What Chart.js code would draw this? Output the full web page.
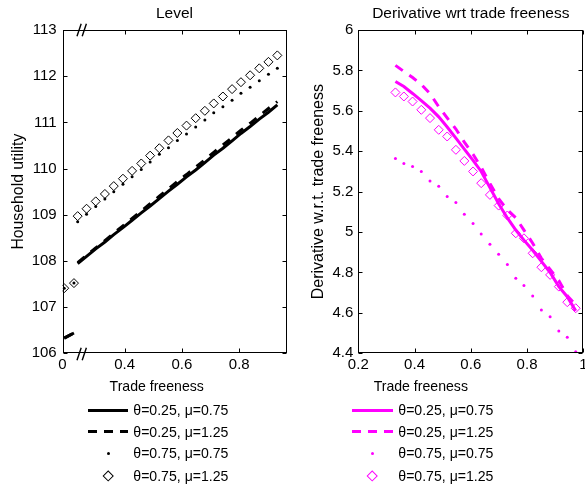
<!DOCTYPE html>
<html>
<head>
<meta charset="utf-8">
<script src="https://cdn.jsdelivr.net/npm/chart.js@4/dist/chart.umd.min.js"></script>
<style>
html,body{margin:0;padding:0;background:#fff;overflow:hidden;width:585px;height:488px;position:relative;font-family:"Liberation Sans",Arial,sans-serif;color:#000;}
canvas{position:absolute;top:0;}
#c1{left:0;}
#c2{left:292px;}
.txt{position:absolute;white-space:nowrap;font-size:14.1px;line-height:20px;height:20px;}
.xl{transform:translateX(-50%);}
.sample{position:absolute;}
</style>
</head>
<body>
<canvas id="c1" width="292" height="380"></canvas>
<canvas id="c2" width="308" height="380"></canvas>
<div id="overlay"></div>
<script>
// ---------------- data ----------------
const legendLabels = ['θ=0.25, μ=0.75', 'θ=0.25, μ=1.25', 'θ=0.75, μ=0.75', 'θ=0.75, μ=1.25'];
const xTitle = 'Trade freeness';

// Left panel: "Level"
const leftX = [0.236,0.267,0.299,0.331,0.362,0.394,0.426,0.458,0.489,0.521,0.553,0.584,0.616,0.648,0.680,0.711,0.743,0.775,0.806,0.838,0.870,0.902,0.933];
const leftEdgeX = [0.189, 0.223];
const leftBreakX = 0.25;
const levelSolid = [107.94,108.10,108.26,108.41,108.57,108.72,108.88,109.04,109.19,109.35,109.51,109.66,109.82,109.97,110.13,110.29,110.44,110.60,110.76,110.91,111.07,111.22,111.38];
const levelSolidEdge = [106.33,106.44];
const levelDashed = [107.96,108.12,108.28,108.44,108.60,108.76,108.92,109.08,109.24,109.40,109.56,109.72,109.87,110.03,110.19,110.35,110.51,110.67,110.83,110.98,111.14,111.30,111.45];
const levelDashedEdge = [106.33,106.44];
const levelDots = [108.85,109.01,109.18,109.34,109.50,109.66,109.82,109.98,110.14,110.31,110.45,110.61,110.75,110.90,111.05,111.21,111.34,111.48,111.63,111.76,111.90,112.04,112.17];
const levelDotsEdge = [107.41,107.52];
const levelDiamonds = [108.97,109.13,109.29,109.45,109.62,109.78,109.95,110.11,110.28,110.44,110.61,110.77,110.93,111.09,111.25,111.41,111.56,111.72,111.87,112.02,112.17,112.31,112.45];
const levelDiamondsEdge = [107.41,107.52];
const leftXTicks = [0.183, 0.4, 0.6, 0.8];
const leftXTickLabels = ['0', '0.4', '0.6', '0.8'];
const leftYTicks = [106,107,108,109,110,111,112,113];
const leftYTickLabels = ['106','107','108','109','110','111','112','113'];

// Right panel: "Derivative wrt trade freeness"
const rightX = [0.332,0.362,0.393,0.424,0.455,0.486,0.516,0.547,0.577,0.608,0.637,0.668,0.699,0.730,0.760,0.789,0.820,0.851,0.882,0.913,0.943,0.973];
const derivSolid = [5.745,5.72,5.686,5.65,5.613,5.57,5.52,5.465,5.41,5.355,5.30,5.22,5.14,5.07,5.01,4.96,4.91,4.855,4.80,4.73,4.68,4.61];
const derivDashed = [5.825,5.795,5.765,5.73,5.685,5.62,5.565,5.51,5.445,5.385,5.32,5.24,5.165,5.11,5.07,5.01,4.945,4.87,4.815,4.76,4.685,4.64];
const derivDots = [5.364,5.339,5.324,5.30,5.253,5.227,5.176,5.146,5.088,5.042,4.99,4.94,4.89,4.839,4.771,4.735,4.684,4.614,4.581,4.51,4.48,4.408];
const derivDiamonds = [5.691,5.671,5.646,5.605,5.564,5.506,5.473,5.407,5.352,5.30,5.242,5.184,5.131,5.082,4.994,4.969,4.895,4.826,4.788,4.730,4.653,4.623];
const rightXTicks = [0.2, 0.4, 0.6, 0.8, 1.0];
const rightXTickLabels = ['0.2','0.4','0.6','0.8','1'];
const rightYTicks = [4.4,4.6,4.8,5.0,5.2,5.4,5.6,5.8,6.0];
const rightYTickLabels = ['4.4','4.6','4.8','5','5.2','5.4','5.6','5.8','6'];

// ---------------- helpers ----------------
Chart.defaults.font.family = '"Liberation Sans", Arial, sans-serif';
Chart.defaults.color = '#000';

function pts(xs, ys) { return xs.map((x, i) => ({x: x, y: ys[i]})); }
function withEdge(edgeX, edgeY, xs, ys, gapX) {
  return pts(edgeX, edgeY).concat([{x: gapX, y: null}], pts(xs, ys));
}

const framePlugin = {
  id: 'frame',
  afterDatasetsDraw(chart, args, opts) {
    const {ctx, chartArea: a, scales: {x, y}} = chart;
    const L = Math.round(a.left) + 0.5, R = Math.round(a.right) - 0.5;
    const T = Math.round(a.top) + 0.5, B = Math.round(a.bottom) - 0.5;
    ctx.save();
    ctx.strokeStyle = '#000';
    ctx.lineWidth = 1;
    ctx.strokeRect(L, T, R - L, B - T);
    const tl = 4;
    ctx.beginPath();
    x.ticks.forEach(t => {
      const px = Math.round(x.getPixelForValue(t.value)) + 0.5;
      ctx.moveTo(px, B); ctx.lineTo(px, B - tl);
      ctx.moveTo(px, T); ctx.lineTo(px, T + tl);
    });
    y.ticks.forEach(t => {
      const py = Math.round(y.getPixelForValue(t.value)) + 0.5;
      ctx.moveTo(L, py); ctx.lineTo(L + tl, py);
      ctx.moveTo(R, py); ctx.lineTo(R - tl, py);
    });
    ctx.stroke();
    if (opts && opts.breakAt !== undefined) {
      const bx = x.getPixelForValue(opts.breakAt);
      ctx.lineWidth = 1.4;
      ctx.beginPath();
      [[T - 0.5, -0.5], [B + 1.5, 0]].forEach(([cy]) => {
        [-2.6, 2.6].forEach(d => {
          ctx.moveTo(bx + d - 2.1, cy + 6.2);
          ctx.lineTo(bx + d + 2.1, cy - 6.2);
        });
      });
      ctx.stroke();
    }
    ctx.restore();
  }
};

function makeChart(canvasId, cfg) {
  const color = cfg.color;
  const datasets = [
    {data: cfg.solid, showLine: true, borderColor: color, borderWidth: 3, pointRadius: 0, tension: 0, spanGaps: false},
    {data: cfg.dashed, showLine: true, borderColor: color, borderWidth: 3, borderDash: [9, 8], pointRadius: 0, tension: 0, spanGaps: false},
    {data: cfg.dots, showLine: false, pointRadius: 1.5, pointBackgroundColor: color, pointBorderWidth: 0, borderColor: color},
    {data: cfg.diamonds, showLine: false, pointStyle: 'rectRot', pointRadius: 4.5, pointBackgroundColor: 'rgba(0,0,0,0)', pointBorderColor: color, pointBorderWidth: 1, borderColor: color}
  ];
  return new Chart(document.getElementById(canvasId), {
    type: 'scatter',
    data: {datasets: datasets},
    options: {
      responsive: false,
      animation: false,
      events: [],
      layout: {padding: {left: 0, right: cfg.padRight, top: 0, bottom: 0}},
      plugins: {
        legend: {display: false},
        tooltip: {enabled: false},
        title: {display: true, text: cfg.title, fullSize: false, color: '#000',
                font: {size: 15.5, weight: 'normal'}, padding: {top: 4, bottom: 7.4}},
        frame: cfg.frameOpts
      },
      scales: {
        x: {
          type: 'linear', min: cfg.xMin, max: cfg.xMax,
          grid: {display: false, drawTicks: false}, border: {display: false},
          afterBuildTicks: s => { s.ticks = cfg.xTicks.map(v => ({value: v})); },
          ticks: {autoSkip: false, maxRotation: 0, padding: 2.7, font: {size: 15}, color: '#000',
                  callback: (v, i) => cfg.xTickLabels[i]},
          afterFit: s => { s.height = 26.7; }
        },
        y: {
          type: 'linear', min: cfg.yMin, max: cfg.yMax,
          grid: {display: false, drawTicks: false}, border: {display: false},
          afterBuildTicks: s => { s.ticks = cfg.yTicks.map(v => ({value: v})); },
          ticks: {autoSkip: false, padding: cfg.yTickPad, font: {size: 15}, color: '#000',
                  callback: (v, i) => cfg.yTickLabels[i]},
          title: {display: true, text: cfg.yTitle, color: '#000', font: {size: cfg.yTitleSize},
                  padding: {top: cfg.yTitlePad, bottom: 0}},
          afterFit: s => { s.width = cfg.yWidth; }
        }
      }
    },
    plugins: [framePlugin]
  });
}

makeChart('c1', {
  color: '#000000',
  title: 'Level',
  solid: withEdge(leftEdgeX, levelSolidEdge, leftX, levelSolid, leftBreakX),
  dashed: withEdge(leftEdgeX, levelDashedEdge, leftX, levelDashed, leftBreakX),
  dots: pts(leftEdgeX, levelDotsEdge).concat(pts(leftX, levelDots)),
  diamonds: pts(leftEdgeX, levelDiamondsEdge).concat(pts(leftX, levelDiamonds)),
  xMin: 0.183, xMax: 0.965, xTicks: leftXTicks, xTickLabels: leftXTickLabels,
  yMin: 106, yMax: 113, yTicks: leftYTicks, yTickLabels: leftYTickLabels,
  yTitle: 'Household utility', yTitleSize: 15.8, yTitlePad: 8.8,
  yWidth: 62.5, yTickPad: 5.8, padRight: 4.7,
  frameOpts: {breakAt: leftBreakX}
});

makeChart('c2', {
  color: '#ff00ff',
  title: 'Derivative wrt trade freeness',
  solid: pts(rightX, derivSolid),
  dashed: pts(rightX, derivDashed),
  dots: pts(rightX, derivDots),
  diamonds: pts(rightX, derivDiamonds),
  xMin: 0.2, xMax: 1.0, xTicks: rightXTicks, xTickLabels: rightXTickLabels,
  yMin: 4.4, yMax: 6.0, yTicks: rightYTicks, yTickLabels: rightYTickLabels,
  yTitle: 'Derivative w.r.t. trade freeness', yTitleSize: 16, yTitlePad: 16.7,
  yWidth: 66.3, yTickPad: 5, padRight: 16.7,
  frameOpts: {}
});

// ---------------- x titles and legends (HTML) ----------------
const overlay = document.getElementById('overlay');
function addText(text, left, cy, cls) {
  const d = document.createElement('div');
  d.className = 'txt' + (cls ? ' ' + cls : '');
  d.textContent = text;
  d.style.left = left + 'px';
  d.style.top = (cy - 10) + 'px';
  overlay.appendChild(d);
}
function addSample(kind, color, left, width, cy) {
  const s = document.createElement('div');
  s.className = 'sample';
  if (kind === 'solid' || kind === 'dashed') {
    s.style.left = left + 'px';
    s.style.top = (cy - 1.5) + 'px';
    s.style.width = width + 'px';
    s.style.height = '3px';
    s.style.background = kind === 'solid' ? color :
      'repeating-linear-gradient(to right,' + color + ' 0px,' + color + ' 8.6px,transparent 8.6px,transparent 16px)';
  } else if (kind === 'dot') {
    s.style.left = (left + width / 2 - 1.5) + 'px';
    s.style.top = (cy - 1.5) + 'px';
    s.style.width = '3px'; s.style.height = '3px';
    s.style.borderRadius = '50%';
    s.style.background = color;
  } else {
    const side = 6.4;
    s.style.left = (left + width / 2 - side / 2 - 1) + 'px';
    s.style.top = (cy - side / 2 - 1) + 'px';
    s.style.width = side + 'px'; s.style.height = side + 'px';
    s.style.border = '1px solid ' + color;
    s.style.transform = 'rotate(45deg)';
  }
  overlay.appendChild(s);
}
const legendRowsY = [410, 431.7, 453.3, 476];
const kinds = ['solid', 'dashed', 'dot', 'diamond'];
function addLegend(color, sampleLeft, sampleWidth, textLeft, xTitleCenter) {
  addText(xTitle, xTitleCenter, 386.3, 'xl');
  legendLabels.forEach((lab, i) => {
    addSample(kinds[i], color, sampleLeft, sampleWidth, legendRowsY[i]);
    addText(lab, textLeft, legendRowsY[i]);
  });
}
addLegend('#000000', 87.7, 40.6, 133.3, 156.7);
addLegend('#ff00ff', 351.7, 41.6, 398.3, 420.8);
</script>
</body>
</html>
